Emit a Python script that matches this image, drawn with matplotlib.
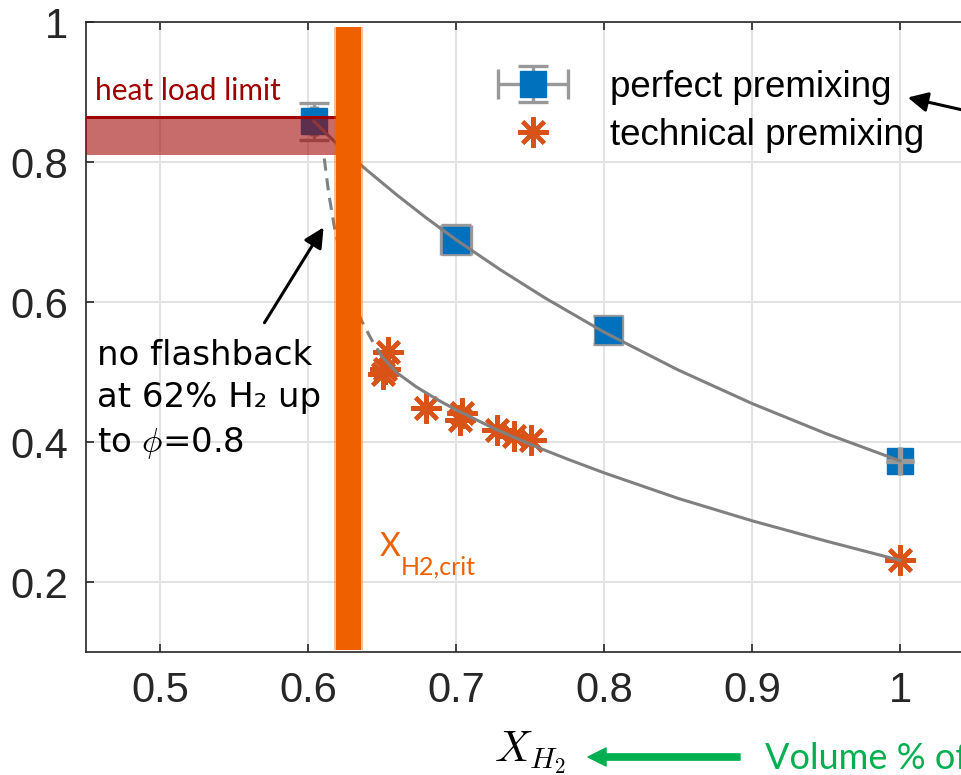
import numpy as np
import matplotlib.pyplot as plt
from matplotlib.legend_handler import HandlerErrorbar

plt.rcParams['mathtext.fontset'] = 'cm'

# perfect premixing (squares with error bars)
pp_x = [0.604, 0.700, 0.803, 1.000]
pp_y = [0.858, 0.689, 0.560, 0.373]
pp_xerr = [0.002, 0.0098, 0.0091, 0.001]
pp_yerr = [0.027, 0.0207, 0.0193, 0.002]

# technical premixing (asterisks)
tp_x = [0.654, 0.652, 0.651, 0.680, 0.704, 0.703, 0.728, 0.739, 0.751, 1.000]
tp_y = [0.528, 0.505, 0.497, 0.448, 0.441, 0.431, 0.417, 0.408, 0.403, 0.231]

# fitted curves
fit_pp_x = [0.604, 0.620, 0.640, 0.660, 0.680, 0.700, 0.730, 0.760, 0.800, 0.850, 0.900, 0.950, 1.000]
fit_pp_y = [0.858, 0.825, 0.788, 0.753, 0.720, 0.689, 0.646, 0.606, 0.557, 0.503, 0.455, 0.412, 0.373]
fit_tp_dash_x = [0.611, 0.614, 0.618, 0.624, 0.630, 0.636, 0.643, 0.650]
fit_tp_dash_y = [0.805, 0.755, 0.705, 0.650, 0.607, 0.574, 0.546, 0.522]
fit_tp_x = [0.650, 0.660, 0.673, 0.687, 0.700, 0.727, 0.752, 0.776, 0.800, 0.850, 0.900, 0.950, 1.000]
fit_tp_y = [0.522, 0.499, 0.479, 0.461, 0.446, 0.418, 0.395, 0.375, 0.356, 0.3195, 0.2875, 0.2585, 0.231]

x_crit = [0.619, 0.636]
heat_band = [0.810, 0.864]

xticks = [0.5, 0.6, 0.7, 0.8, 0.9, 1.0]
xtick_labels = ['0.5', '0.6', '0.7', '0.8', '0.9', '1']
yticks = [0.2, 0.4, 0.6, 0.8, 1.0]
ytick_labels = ['0.2', '0.4', '0.6', '0.8', '1']

blue = '#0072BD'
orange_mk = '#D95319'
gray_eb = '#999999'
gray_fit = '#808080'
crit_orange = '#EE6000'
dark_red = '#A00000'
green = '#00B050'

fig = plt.figure(figsize=(9.61, 7.75), dpi=100)
ax = fig.add_axes([86 / 961, 123 / 775, 888 / 961, 630 / 775])

# squares: first three with bars below marker, last with bars on top
eb = ax.errorbar(pp_x[:3], pp_y[:3], xerr=pp_xerr[:3], yerr=pp_yerr[:3], fmt='s',
                 ms=19, mfc=blue, mec=blue, ecolor=gray_eb, elinewidth=2.4,
                 capsize=10.8, capthick=2.4, zorder=3, label='perfect premixing')
ax.errorbar(pp_x[3:], pp_y[3:], xerr=pp_xerr[3:], yerr=pp_yerr[3:], fmt='s',
            ms=19, mfc=blue, mec=blue, ecolor=gray_eb, elinewidth=2.4,
            capsize=10, capthick=2.4, barsabove=True, zorder=3)

st, = ax.plot(tp_x, tp_y, ls='none', marker=(8, 2, 0), ms=22, mew=3,
              color=orange_mk, zorder=3, label='technical premixing')

ax.plot(fit_pp_x, fit_pp_y, color=gray_fit, lw=2.2, zorder=4)
ax.plot(fit_tp_dash_x, fit_tp_dash_y, color=gray_fit, lw=2.2, ls=(0, (4, 2.5)), zorder=4)
ax.plot(fit_tp_x, fit_tp_y, color=gray_fit, lw=2.2, zorder=4)

# heat load limit band
ax.fill_between([0.45, x_crit[0]], heat_band[0], heat_band[1], color='#9F0000',
                alpha=0.58, lw=0, zorder=5)
ax.plot([0.45, x_crit[0]], [heat_band[1], heat_band[1]], color=dark_red, lw=2.2, zorder=5)
ax.text(0.456, 0.889, 'heat load limit', color=dark_red, fontsize=21.5,
        family='Lato', va='baseline', zorder=7)

# critical H2 bar (with a soft edge)
ax.fill_between([x_crit[0] - 0.0012, x_crit[1] + 0.0012], 0.103, 0.993,
                color=crit_orange, alpha=0.4, lw=0, zorder=6)
ax.fill_between(x_crit, 0.103, 0.993, color=crit_orange, lw=0, zorder=6)
ax.text(0.6486, 0.250, 'X', color=crit_orange, fontsize=23, family='Lato',
        va='center', zorder=7)
ax.text(0.6625, 0.222, 'H2,crit', color=crit_orange, fontsize=18, family='Lato',
        va='center', zorder=7)

# annotation text
ax.text(0.4574, 0.510, 'no flashback', fontsize=24.5, va='baseline', zorder=7)
ax.text(0.4574, 0.450, 'at 62% H\u2082 up', fontsize=24.5, va='baseline', zorder=7)
ax.text(0.4574, 0.386, 'to $\\phi$=0.8', fontsize=24.5, va='baseline', zorder=7)
ax.annotate('', xy=(0.6115, 0.71), xytext=(0.5696, 0.567),
            arrowprops=dict(arrowstyle='-|>', color='k', lw=2.2, mutation_scale=30),
            zorder=7)
ax.annotate('', xy=(1.0034, 0.893), xytext=(1.07, 0.861), annotation_clip=False,
            arrowprops=dict(arrowstyle='-|>', color='k', lw=2.2, mutation_scale=30),
            zorder=7)

ax.set_xlim(0.45, 1.05)
ax.set_ylim(0.1, 1.0)
ax.set_xticks(xticks)
ax.set_xticklabels(xtick_labels)
ax.set_yticks(yticks)
ax.set_yticklabels(ytick_labels)
for lab in ax.get_xticklabels() + ax.get_yticklabels():
    lab.set_family('Liberation Sans')
ax.tick_params(axis='both', direction='in', length=6, width=1.2, colors='#262626',
               labelsize=30, top=True)
ax.tick_params(axis='x', pad=14)
ax.tick_params(axis='y', pad=13)
ax.grid(True, color='#e2e2e2', lw=1.4)
ax.set_axisbelow(True)
for s in ax.spines.values():
    s.set_color('#262626')
    s.set_linewidth(1.2)

ax.set_xlabel('$X_{H_2}$', fontsize=31, labelpad=13)

leg = ax.legend(handles=[eb, st], loc='center left', bbox_to_anchor=(0.4617, 0.858),
                frameon=False, borderpad=0, borderaxespad=0, handlelength=2,
                handletextpad=1.1, labelspacing=0.36,
                prop={'family': 'Liberation Sans', 'size': 26.5},
                handler_map={eb: HandlerErrorbar(xerr_size=0.95, yerr_size=0.5)})

# green arrow and caption below the axis
ax.annotate('', xy=(588, 18), xytext=(740, 18), xycoords='figure pixels',
            arrowprops=dict(color=green, width=4.5, headwidth=13, headlength=13, shrink=0))
fig.text(765 / 961, 6 / 775, 'Volume % of H\u2082', color=green, fontsize=26,
         family='Lato', va='baseline')

fig.savefig('out.png', dpi=100)
